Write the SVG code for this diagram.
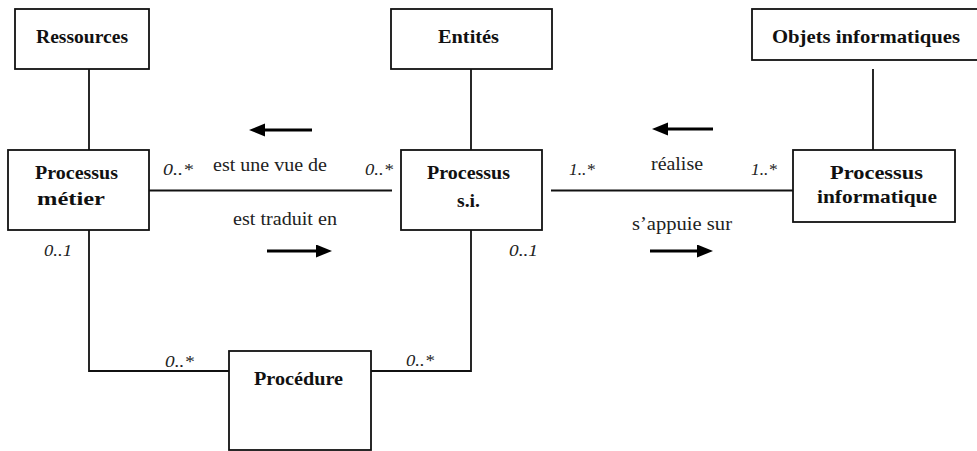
<svg xmlns="http://www.w3.org/2000/svg" width="977" height="451" viewBox="0 0 977 451">
<defs>
<style>
.box{fill:#fff;stroke:#111;stroke-width:1.8}
.ln{fill:none;stroke:#111;stroke-width:1.8}
.arr{fill:none;stroke:#000;stroke-width:3}
text{font-family:"Liberation Serif","DejaVu Serif","Noto Serif",Times,serif}
.t{font-weight:bold;font-size:19px;fill:#111}
.lab{font-size:18px;fill:#222}
.m{font-style:italic;font-size:17px;fill:#222}
</style>
<marker id="head" markerUnits="userSpaceOnUse" markerWidth="17" markerHeight="14" refX="0" refY="6.5" orient="auto">
<path d="M0,0 L16,6.5 L0,13 z" fill="#000"/>
</marker>
</defs>
<rect width="977" height="451" fill="#fff"/>
<g id="connectors">
<line class="ln" x1="89" y1="69" x2="89" y2="150"/>
<line class="ln" x1="471" y1="69" x2="471" y2="150"/>
<line class="ln" x1="873" y1="69" x2="873" y2="150"/>
<line class="ln" x1="149" y1="190.5" x2="392" y2="190.5"/>
<line class="ln" x1="551" y1="190.5" x2="793" y2="190.5"/>
<polyline class="ln" points="89,230 89,371 229,371"/>
<polyline class="ln" points="371,371 471,371 471,230"/>
<line class="arr" x1="312" y1="130" x2="265" y2="130" marker-end="url(#head)"/>
<line class="arr" x1="267" y1="251" x2="316" y2="251" marker-end="url(#head)"/>
<line class="arr" x1="713" y1="129" x2="668" y2="129" marker-end="url(#head)"/>
<line class="arr" x1="650" y1="251" x2="697" y2="251" marker-end="url(#head)"/>
<text class="m" x="163" y="175" textLength="30" lengthAdjust="spacingAndGlyphs" font-family="Liberation Serif, DejaVu Serif, serif">0..*</text>
<text class="m" x="365" y="175" textLength="28" lengthAdjust="spacingAndGlyphs" font-family="Liberation Serif, DejaVu Serif, serif">0..*</text>
<text class="lab" x="213" y="171" textLength="114" lengthAdjust="spacingAndGlyphs" font-family="Liberation Serif, DejaVu Serif, serif">est une vue de</text>
<text class="lab" x="233" y="225" textLength="104" lengthAdjust="spacingAndGlyphs" font-family="Liberation Serif, DejaVu Serif, serif">est traduit en</text>
<text class="m" x="569" y="175" textLength="26" lengthAdjust="spacingAndGlyphs" font-family="Liberation Serif, DejaVu Serif, serif">1..*</text>
<text class="m" x="751" y="175" textLength="26" lengthAdjust="spacingAndGlyphs" font-family="Liberation Serif, DejaVu Serif, serif">1..*</text>
<text class="lab" x="651" y="170" textLength="52" lengthAdjust="spacingAndGlyphs" font-family="Liberation Serif, DejaVu Serif, serif">réalise</text>
<text class="lab" x="632" y="230" textLength="100" lengthAdjust="spacingAndGlyphs" font-family="Liberation Serif, DejaVu Serif, serif">s’appuie sur</text>
<text class="m" x="44" y="256" textLength="28" lengthAdjust="spacingAndGlyphs" font-family="Liberation Serif, DejaVu Serif, serif">0..1</text>
<text class="m" x="509" y="256" textLength="29" lengthAdjust="spacingAndGlyphs" font-family="Liberation Serif, DejaVu Serif, serif">0..1</text>
<text class="m" x="165" y="367" textLength="29" lengthAdjust="spacingAndGlyphs" font-family="Liberation Serif, DejaVu Serif, serif">0..*</text>
<text class="m" x="406" y="366" textLength="28" lengthAdjust="spacingAndGlyphs" font-family="Liberation Serif, DejaVu Serif, serif">0..*</text>
</g>
<g id="ressources">
<rect class="box" x="15" y="9" width="134" height="60"/>
<text class="t" x="36" y="43" textLength="92" lengthAdjust="spacingAndGlyphs" font-family="Liberation Serif, DejaVu Serif, serif">Ressources</text>
</g>
<g id="entites">
<rect class="box" x="391" y="9" width="161" height="60"/>
<text class="t" x="438" y="43" textLength="61" lengthAdjust="spacingAndGlyphs" font-family="Liberation Serif, DejaVu Serif, serif">Entités</text>
</g>
<g id="objets">
<rect class="box" x="752" y="9" width="235" height="51"/>
<text class="t" x="772" y="43" textLength="188" lengthAdjust="spacingAndGlyphs" font-family="Liberation Serif, DejaVu Serif, serif">Objets  informatiques</text>
</g>
<g id="processus-metier">
<rect class="box" x="8" y="150" width="141" height="80"/>
<text class="t" x="35" y="179" textLength="83" lengthAdjust="spacingAndGlyphs" font-family="Liberation Serif, DejaVu Serif, serif">Processus</text>
<text class="t" x="37" y="205" textLength="68" lengthAdjust="spacingAndGlyphs" font-family="Liberation Serif, DejaVu Serif, serif">métier</text>
</g>
<g id="processus-si">
<rect class="box" x="401" y="150" width="141" height="80"/>
<text class="t" x="427" y="179" textLength="83" lengthAdjust="spacingAndGlyphs" font-family="Liberation Serif, DejaVu Serif, serif">Processus</text>
<text class="t" x="457" y="207" textLength="23" lengthAdjust="spacingAndGlyphs" font-family="Liberation Serif, DejaVu Serif, serif">s.i.</text>
</g>
<g id="processus-informatique">
<rect class="box" x="793" y="150" width="162" height="72"/>
<text class="t" x="830" y="179" textLength="93" lengthAdjust="spacingAndGlyphs" font-family="Liberation Serif, DejaVu Serif, serif">Processus</text>
<text class="t" x="817" y="203" textLength="120" lengthAdjust="spacingAndGlyphs" font-family="Liberation Serif, DejaVu Serif, serif">informatique</text>
</g>
<g id="procedure">
<rect class="box" x="229" y="351" width="142" height="99"/>
<text class="t" x="254" y="385" textLength="89" lengthAdjust="spacingAndGlyphs" font-family="Liberation Serif, DejaVu Serif, serif">Procédure</text>
</g>
</svg>
